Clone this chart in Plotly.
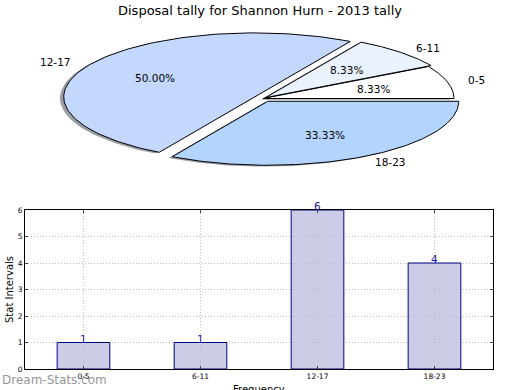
import numpy as np
import plotly.graph_objects as go

# ---------------- data ----------------
categories = ["0-5", "6-11", "12-17", "18-23"]
counts = [1, 1, 6, 4]
pie_colors = ["#ffffff", "#eaf1ff", "#c4d7ff", "#b3d4ff"]
explode = [0.0, 0.02, 0.05, 0.05]
y_ticks = [0, 1, 2, 3, 4, 5, 6]
title_text = "Disposal tally for Shannon Hurn - 2013 tally"
x_title = "Frequency"
y_title = "Stat Intervals"
watermark = "Dream-Stats.com"

# ---------------- layout constants ----------------
W, H = 520, 390
FONT = "DejaVu Sans"
cx, cy = 263.0, 98.5      # pie centre (px)
rx, ry = 191.0, 64.0      # pie semi-axes (px)
PIE_BOTTOM = 195.0        # bottom of pie region (px)

fig = go.Figure()

total = float(sum(counts))
fracs = [c / total for c in counts]
starts = np.concatenate([[0.0], np.cumsum(fracs)[:-1]]) * 360.0
ends = np.cumsum(fracs) * 360.0


def wedge(t1, t2, ox, oy):
    th = np.radians(np.linspace(t1, t2, 120))
    xs = np.concatenate([[ox], ox + np.cos(th), [ox]])
    ys = np.concatenate([[oy], oy + np.sin(th), [oy]])
    return xs, ys


def hex_rgb(h):
    h = h.lstrip("#")
    return [int(h[i:i + 2], 16) for i in (0, 2, 4)]


offsets = []
for i in range(len(counts)):
    mid = np.radians((starts[i] + ends[i]) / 2)
    offsets.append((explode[i] * np.cos(mid), explode[i] * np.sin(mid)))

# shadows
for i in range(len(counts)):
    ox, oy = offsets[i]
    xs, ys = wedge(starts[i], ends[i], ox - 0.02, oy - 0.02)
    r, g, b = [int(0.3 * v) for v in hex_rgb(pie_colors[i])]
    fig.add_trace(go.Scatter(x=xs, y=ys, xaxis="x2", yaxis="y2", mode="lines",
                             fill="toself", fillcolor=f"rgba({r},{g},{b},0.5)",
                             line=dict(width=0), hoverinfo="skip", showlegend=False))
# wedges
for i in range(len(counts)):
    ox, oy = offsets[i]
    xs, ys = wedge(starts[i], ends[i], ox, oy)
    fig.add_trace(go.Scatter(x=xs, y=ys, xaxis="x2", yaxis="y2", mode="lines",
                             fill="toself", fillcolor=pie_colors[i],
                             line=dict(color="black", width=1), hoverinfo="skip",
                             showlegend=False))

annotations = []
for i in range(len(counts)):
    ox, oy = offsets[i]
    mid = np.radians((starts[i] + ends[i]) / 2)
    lx, ly = ox + 1.1 * np.cos(mid), oy + 1.1 * np.sin(mid)
    annotations.append(dict(x=lx, y=ly, xref="x2", yref="y2", text=categories[i],
                            showarrow=False, xanchor="left" if lx > 0 else "right",
                            yanchor="middle", font=dict(family=FONT, size=10.5, color="black")))
    px, py = ox + 0.6 * np.cos(mid), oy + 0.6 * np.sin(mid)
    annotations.append(dict(x=px, y=py, xref="x2", yref="y2",
                            text=f"{100 * fracs[i]:.2f}%", showarrow=False,
                            xanchor="center", yanchor="middle",
                            font=dict(family=FONT, size=10.5, color="black")))

# ---------------- bar chart ----------------
fig.add_trace(go.Bar(x=categories, y=counts, width=0.45, xaxis="x", yaxis="y",
                     marker=dict(color="rgba(181,182,219,0.7)",
                                 line=dict(color="#000080", width=1)),
                     hoverinfo="skip", showlegend=False))
for c, v in zip(categories, counts):
    annotations.append(dict(x=c, y=v, xref="x", yref="y", text=str(v), showarrow=False,
                            xanchor="center", yanchor="middle", yshift=4,
                            font=dict(family=FONT, size=10.5, color="#1a1a9c")))

annotations.append(dict(x=0.5, y=1 - 10 / H, xref="paper", yref="paper", text=title_text,
                        showarrow=False, xanchor="center", yanchor="middle",
                        font=dict(family=FONT, size=13, color="black")))
annotations.append(dict(x=9 / W, y=1 - 290 / H, xref="paper", yref="paper", text=y_title,
                        textangle=-90, showarrow=False, xanchor="center", yanchor="middle",
                        font=dict(family=FONT, size=10, color="black")))
annotations.append(dict(x=259 / W, y=(H - 382) / H, xref="paper", yref="paper", text=x_title,
                        showarrow=False, xanchor="center", yanchor="top",
                        font=dict(family=FONT, size=10, color="black")))
annotations.append(dict(x=0, y=(H - 380) / H, xref="paper", yref="paper", text=watermark,
                        showarrow=False, xanchor="left", yanchor="middle",
                        font=dict(family=FONT, size=12, color="rgba(120,120,120,0.8)")))

axis_common = dict(showline=True, linecolor="black", linewidth=1, mirror="ticks",
                   ticks="inside", ticklen=3, tickcolor="#444", automargin=False,
                   showgrid=True, gridcolor="#bdbdbd", griddash="1px,2px", gridwidth=1,
                   zeroline=False, fixedrange=True,
                   tickfont=dict(family=FONT, size=7.5, color="black"))

fig.update_layout(
    width=W, height=H, margin=dict(l=0, r=0, t=0, b=0, pad=0, autoexpand=False),
    paper_bgcolor="white", plot_bgcolor="rgba(0,0,0,0)",
    showlegend=False, annotations=annotations,
    xaxis=dict(domain=[25 / W, 493 / W], range=[-0.5, 3.5], type="category",
               anchor="y", **axis_common),
    yaxis=dict(domain=[1 - 369 / H, 1 - 210 / H], range=[0, 6], tickvals=y_ticks,
               anchor="x", **axis_common),
    xaxis2=dict(domain=[0, 1], range=[-cx / rx, (W - cx) / rx], visible=False,
                anchor="y2", fixedrange=True, automargin=False),
    yaxis2=dict(domain=[1 - PIE_BOTTOM / H, 1], range=[(cy - PIE_BOTTOM) / ry, cy / ry],
                visible=False, anchor="x2", fixedrange=True, automargin=False),
)

fig.write_html("out.html", config={"displayModeBar": False, "responsive": False},
               post_script="document.body.style.margin='0';document.body.style.padding='0';")
